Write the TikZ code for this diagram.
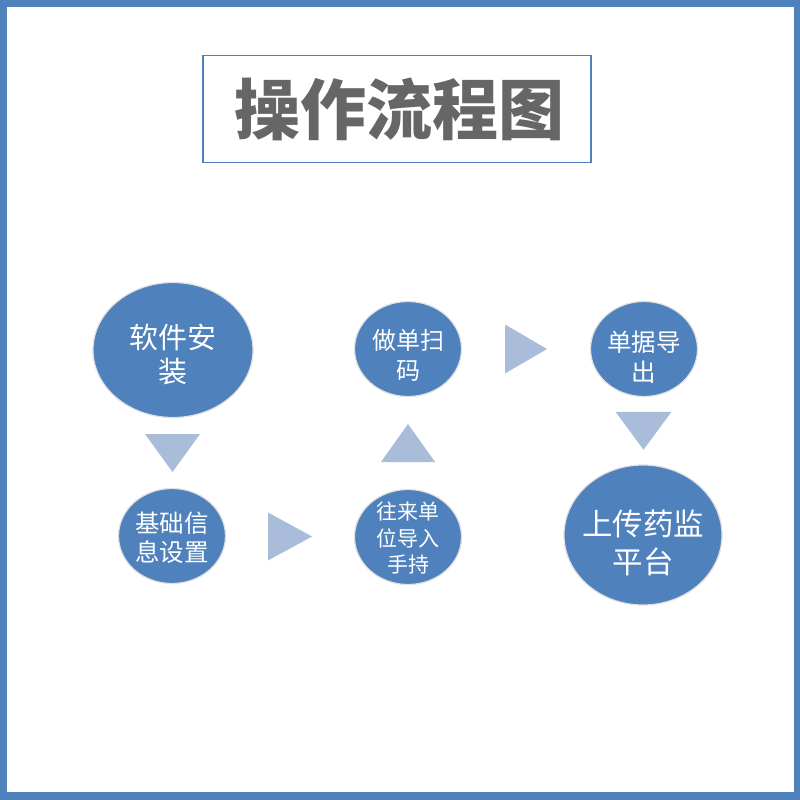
\documentclass[tikz,border=0pt]{standalone}
\usepackage{fontspec}
\setmainfont{Noto Sans CJK SC}
\usetikzlibrary{calc,shapes.geometric}
\definecolor{mainblue}{HTML}{4F81BD}
\definecolor{triblue}{HTML}{A9BCDA}
\definecolor{titlegray}{HTML}{666666}
\tikzset{
  stepell/.style={ellipse, fill=mainblue, draw=black!12, line width=1.2pt, inner sep=0pt},
  steptext/.style={text=white, align=center, inner sep=0pt},
  tri/.style={fill=triblue, draw=none},
}
\begin{document}
\begin{tikzpicture}[x=1pt,y=-1pt]
\useasboundingbox (0,0) rectangle (800,800);
\fill[mainblue] (0,0) rectangle (800,800);
\fill[white] (7,7) rectangle (794,792);
% title
\node[draw=mainblue, line width=1.3pt, minimum width=388pt, minimum height=107pt, inner sep=0pt] (title) at (397,109) {};
\node[text=titlegray, inner sep=0pt, font=\fontsize{66}{70}\selectfont\bfseries] (titletext) at (399,109) {操作流程图};
% ellipses
\node[stepell, minimum width=160pt, minimum height=135pt] (n1) at (173,350) {};
\node[stepell, minimum width=107pt, minimum height=95pt] (n2) at (172,536) {};
\node[stepell, minimum width=107pt, minimum height=95pt] (n4) at (408,537) {};
\node[stepell, minimum width=107pt, minimum height=95pt] (n3) at (408,349) {};
\node[stepell, minimum width=107pt, minimum height=95pt] (n5) at (644,349) {};
\node[stepell, minimum width=158pt, minimum height=140pt] (n6) at (643,535) {};
% texts
\node[steptext, font=\fontsize{29}{34}\selectfont] (n1t) at ($(n1)+(0,5)$) {软件安\\装};
\node[steptext, font=\fontsize{24.5}{29}\selectfont] (n2t) at ($(n2)+(0,2)$) {基础信\\息设置};
\node[steptext, font=\fontsize{21}{26.5}\selectfont] (n4t) at ($(n4)+(0,1)$) {往来单\\位导入\\手持};
\node[steptext, font=\fontsize{24}{30}\selectfont] (n3t) at ($(n3)+(0,6)$) {做单扫\\码};
\node[steptext, font=\fontsize{24.5}{30}\selectfont] (n5t) at ($(n5)+(0,8)$) {单据导\\出};
\node[steptext, font=\fontsize{30.5}{38}\selectfont] (n6t) at ($(n6)+(0,8)$) {上传药监\\平台};
% arrow triangles
\coordinate (t1) at ($(n1.south)!0.5!(n2.north)$);
\coordinate (t2) at ($(n2.east)!0.5!(n4.west)$);
\coordinate (t3) at ($(n4.north)!0.5!(n3.south)$);
\coordinate (t4) at ($(n3.east)!0.5!(n5.west)$);
\coordinate (t5) at ($(n5.south)!0.5!(n6.north)$);
\fill[tri] ($(t1)+(-27.5,-19)$) -- ($(t1)+(27.5,-19)$) -- ($(t1)+(0,19)$) -- cycle;
\fill[tri] ($(t2)+(-22,-24)$) -- ($(t2)+(22,0)$) -- ($(t2)+(-22,24)$) -- cycle;
\fill[tri] ($(t3)+(-27,19)$) -- ($(t3)+(27,19)$) -- ($(t3)+(0,-19)$) -- cycle;
\fill[tri] ($(t4)+(-21,-24.5)$) -- ($(t4)+(21,0)$) -- ($(t4)+(-21,24.5)$) -- cycle;
\fill[tri] ($(t5)+(-28,-19)$) -- ($(t5)+(28,-19)$) -- ($(t5)+(0,19)$) -- cycle;
\end{tikzpicture}
\end{document}
